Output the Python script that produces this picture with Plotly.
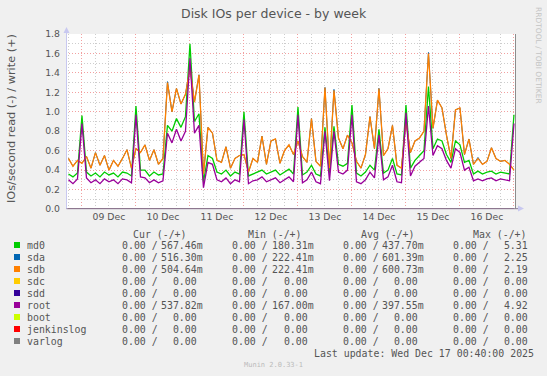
import plotly.graph_objects as go
import pandas as pd

# ---------------- data ----------------
# sample times: hours relative to 2025-12-09 00:00 (2-hour steps)
hours = list(range(-6, 194, 2))

md0 = [0.36, 0.33, 0.37, 0.96, 0.38, 0.34, 0.37, 0.33, 0.38, 0.35, 0.37, 0.33, 0.38, 0.37, 0.34, 1.06, 0.40,
       0.40, 0.34, 0.38, 0.35, 0.36, 0.86, 0.80, 0.93, 0.84, 0.95, 1.70, 0.90, 0.98, 0.28, 0.55, 0.52, 0.38,
       0.36, 0.40, 0.34, 0.38, 0.36, 1.00, 0.34, 0.36, 0.38, 0.40, 0.36, 0.38, 0.40, 0.35, 0.38, 0.41,
       0.36, 1.05, 0.35, 0.38, 0.45, 0.36, 0.34, 0.84, 0.37, 0.85, 0.46, 0.44, 0.47, 1.07, 0.37, 0.34, 0.38,
       0.45, 0.40, 0.82, 0.37, 0.40, 0.52, 0.36, 0.35, 1.07, 0.42, 0.50, 0.55, 0.60, 1.26, 0.62, 0.72, 0.70,
       0.56, 0.48, 0.70, 0.66, 0.48, 0.50, 0.36, 0.39, 0.36, 0.38, 0.39, 0.36, 0.38, 0.37, 0.36, 0.97]

sdb = [0.52, 0.44, 0.50, 0.47, 0.54, 0.42, 0.58, 0.45, 0.55, 0.40, 0.50, 0.44, 0.52, 0.61, 0.42, 0.62, 0.58,
       0.66, 0.50, 0.61, 0.46, 0.52, 1.30, 1.00, 1.24, 1.08, 1.18, 1.45, 1.10, 1.38, 0.36, 0.84, 0.78, 0.50,
       0.48, 0.64, 0.42, 0.52, 0.55, 0.56, 0.38, 0.52, 0.48, 0.75, 0.46, 0.70, 0.72, 0.47, 0.60, 0.66,
       0.56, 0.70, 0.54, 0.48, 0.93, 0.49, 0.44, 1.25, 0.42, 1.22, 0.73, 0.62, 0.76, 0.68, 0.49, 0.42, 0.56,
       0.95, 0.62, 1.24, 0.55, 0.62, 0.86, 0.45, 0.42, 0.90, 0.58, 0.70, 0.73, 0.80, 1.60, 0.83, 1.12, 1.04,
       0.76, 0.52, 1.02, 1.04, 0.56, 0.72, 0.46, 0.52, 0.46, 0.49, 0.63, 0.52, 0.49, 0.50, 0.46, 0.40]

sda = [0.52, 0.44, 0.50, 0.47, 0.54, 0.42, 0.58, 0.45, 0.55, 0.40, 0.50, 0.44, 0.52, 0.61, 0.42, 0.62, 0.58,
       0.66, 0.50, 0.61, 0.46, 0.52, 1.31, 1.00, 1.24, 1.08, 1.18, 1.45, 1.10, 1.38, 0.36, 0.84, 0.78, 0.50,
       0.48, 0.64, 0.42, 0.52, 0.55, 0.56, 0.38, 0.52, 0.48, 0.75, 0.46, 0.70, 0.72, 0.47, 0.60, 0.66,
       0.56, 0.70, 0.54, 0.48, 0.93, 0.49, 0.44, 1.25, 0.42, 1.23, 0.73, 0.62, 0.76, 0.68, 0.49, 0.42, 0.56,
       0.95, 0.62, 1.24, 0.55, 0.62, 0.86, 0.45, 0.42, 0.90, 0.58, 0.70, 0.73, 0.80, 1.61, 0.83, 1.12, 1.04,
       0.76, 0.52, 1.02, 1.04, 0.56, 0.72, 0.46, 0.53, 0.46, 0.49, 0.63, 0.52, 0.49, 0.50, 0.46, 0.40]

root = [0.30, 0.26, 0.31, 0.88, 0.32, 0.27, 0.30, 0.26, 0.31, 0.28, 0.30, 0.26, 0.31, 0.30, 0.27, 0.97, 0.33,
        0.32, 0.27, 0.30, 0.27, 0.29, 0.78, 0.68, 0.82, 0.70, 0.80, 1.55, 0.78, 0.86, 0.22, 0.48, 0.46, 0.30,
        0.28, 0.32, 0.26, 0.30, 0.28, 0.92, 0.26, 0.29, 0.30, 0.33, 0.28, 0.30, 0.32, 0.27, 0.30, 0.33,
        0.28, 0.97, 0.27, 0.30, 0.38, 0.28, 0.26, 0.80, 0.29, 0.80, 0.38, 0.36, 0.40, 0.97, 0.28, 0.26, 0.30,
        0.38, 0.32, 0.76, 0.30, 0.33, 0.45, 0.28, 0.27, 0.99, 0.34, 0.44, 0.48, 0.52, 1.06, 0.55, 0.65, 0.62,
        0.50, 0.42, 0.62, 0.58, 0.40, 0.43, 0.29, 0.31, 0.29, 0.31, 0.32, 0.29, 0.31, 0.30, 0.29, 0.88]

# idle devices: write rate 0 all week
sdc = [0.0] * len(hours)
sdd = [0.0] * len(hours)
boot = [0.0] * len(hours)
jenkinslog = [0.0] * len(hours)
varlog = [0.0] * len(hours)

names = ["md0", "sda", "sdb", "sdc", "sdd", "root", "boot", "jenkinslog", "varlog"]
colors = ["#00CC00", "#0066B3", "#FF8000", "#FFCC00", "#330099", "#990099", "#CCFF00", "#FF0000", "#808080"]
read_vals = ["0.00"] * 9
cur_write = ["567.46m", "516.30m", "504.64m", "0.00", "0.00", "537.82m", "0.00", "0.00", "0.00"]
min_write = ["180.31m", "222.41m", "222.41m", "0.00", "0.00", "167.00m", "0.00", "0.00", "0.00"]
avg_write = ["437.70m", "601.39m", "600.73m", "0.00", "0.00", "397.55m", "0.00", "0.00", "0.00"]
max_write = ["5.31", "2.25", "2.19", "0.00", "0.00", "4.92", "0.00", "0.00", "0.00"]
col_headers = ["Cur (-/+)", "Min (-/+)", "Avg (-/+)", "Max (-/+)"]

title = "Disk IOs per device - by week"
ytitle = "IOs/second read (-) / write (+)"
last_update = "Last update: Wed Dec 17 00:40:00 2025"
version = "Munin 2.0.33-1"
side_text = "RRDTOOL / TOBI OETIKER"

# ---------------- figure ----------------
base = pd.Timestamp("2025-12-09 00:00")
times = [base + pd.Timedelta(hours=h) for h in hours]

series = {"md0": md0, "sda": sda, "sdb": sdb, "sdc": sdc, "sdd": sdd, "root": root,
          "boot": boot, "jenkinslog": jenkinslog, "varlog": varlog}

fig = go.Figure()
for name, col in zip(names, colors):
    fig.add_trace(go.Scatter(
        x=times, y=series[name], mode="lines", name=name,
        line=dict(color=col, width=1.0 if name == "sda" else 1.3),
        showlegend=False, hoverinfo="skip"))

W, H = 547, 376
L, R, T, B = 66, 516, 34, 209
PW, PH = R - L, B - T


def px(x):
    return (x - L) / PW


def py(y):
    return (B - y) / PH


RED = "#F2A0A0"
GRAY = "#CDCDCD"
TXT = "#555555"
DOT = "1px,2px"

fig.update_layout(
    width=W, height=H,
    margin=dict(l=L, r=W - R, t=T, b=H - B, pad=0),
    paper_bgcolor="#F0F0F0", plot_bgcolor="#FFFFFF",
    font=dict(family="DejaVu Sans", color=TXT, size=9.3),
    showlegend=False,
)

fig.update_xaxes(
    type="date",
    range=[base - pd.Timedelta(hours=7.1), base + pd.Timedelta(hours=192.9)],
    tick0="2025-12-09", dtick=86400000, ticklabelmode="period", tickformat="%d %b",
    showgrid=True, gridcolor=RED, griddash=DOT, gridwidth=1,
    ticks="", ticklabelstandoff=1,
    tickfont=dict(family="DejaVu Sans", size=9.3, color=TXT),
    minor=dict(dtick=21600000, showgrid=True, gridcolor=GRAY, griddash=DOT, gridwidth=1),
    showline=False, zeroline=False,
)
fig.update_yaxes(
    range=[0, 1.8], dtick=0.2, tickformat=".1f",
    showgrid=True, gridcolor=RED, griddash=DOT, gridwidth=1,
    ticks="", ticklabelstandoff=5,
    tickfont=dict(family="DejaVu Sans", size=9.3, color=TXT),
    minor=dict(dtick=0.1, showgrid=True, gridcolor=GRAY, griddash=DOT, gridwidth=1),
    showline=False, zeroline=False,
)

shapes = []
AX = "#C8C8F0"
# y axis line + arrow
shapes.append(dict(type="line", xref="paper", yref="paper", x0=px(66.5), x1=px(66.5),
                   y0=py(209), y1=py(31), line=dict(color=AX, width=1)))
shapes.append(dict(type="path", xref="paper", yref="paper",
                   path=f"M {px(63.5)} {py(33)} L {px(69.5)} {py(33)} L {px(66.5)} {py(27)} Z",
                   fillcolor=AX, line=dict(color=AX, width=0)))
# x axis line + arrow
shapes.append(dict(type="line", xref="paper", yref="paper", x0=px(66.5), x1=px(519),
                   y0=py(208.7), y1=py(208.7), line=dict(color="#8A7A9A", width=1)))
shapes.append(dict(type="path", xref="paper", yref="paper",
                   path=f"M {px(518)} {py(205.5)} L {px(518)} {py(211.5)} L {px(524)} {py(208.5)} Z",
                   fillcolor=AX, line=dict(color=AX, width=0)))
# right frame line
shapes.append(dict(type="line", xref="paper", yref="paper", x0=px(515.5), x1=px(515.5),
                   y0=py(209), y1=py(34), line=dict(color="#8C8C8C", width=1)))

# legend colour boxes
for i, col in enumerate(colors):
    yc = 245.0 + 12.0 * i
    shapes.append(dict(type="rect", xref="paper", yref="paper",
                       x0=px(14), x1=px(20), y0=py(yc + 3), y1=py(yc - 3),
                       fillcolor=col, line=dict(color=col, width=0)))
fig.update_layout(shapes=shapes)

anns = []


def ann(text, x, y, size, color=TXT, family="DejaVu Sans Mono", xanchor="left", angle=0):
    anns.append(dict(text=text.replace(" ", "\u00a0"), x=px(x), y=py(y), xref="paper", yref="paper",
                     showarrow=False, xanchor=xanchor, yanchor="middle", textangle=angle,
                     borderpad=0, borderwidth=0,
                     font=dict(family=family, size=size, color=color)))


ann(title, 273.5, 14, 12.5, color="#555555", family="DejaVu Sans", xanchor="center")
ann(ytitle, 11, 119, 11.3, color="#555555", family="DejaVu Sans", xanchor="center", angle=-90)
ann(side_text, 539, 55, 7.5, color="#C4C4C4", family="DejaVu Sans", xanchor="center", angle=90)
ann(version, 273.5, 365, 7.0, color="#BBBBBB", family="DejaVu Sans Mono", xanchor="center")


def pad(s):
    if s[-1].isalpha():
        return s[:-1].rjust(6) + s[-1]
    return s.rjust(6)


LS = 9.9
neg_x = [122, 232, 343, 453]
pos_x = [160.8, 271.5, 381.7, 491.7]
hdr_x = [133.3, 247.7, 360.7, 473.3]
for hx, h in zip(hdr_x, col_headers):
    ann(h, hx, 234, LS)
cols = [cur_write, min_write, avg_write, max_write]
for i, name in enumerate(names):
    yc = 245.2 + 12.0 * i
    ann(name, 27, yc, LS)
    for c in range(4):
        ann(read_vals[i] + " /", neg_x[c], yc, LS)
        ann(pad(cols[c][i]), pos_x[c], yc, LS)
ann(last_update, 533.5, 353.3, LS, xanchor="right")

fig.update_layout(annotations=anns)
fig.write_html(
    "out.html",
    config={"displayModeBar": False, "staticPlot": True},
    post_script="document.body.style.margin='0';document.body.style.background='#F0F0F0';"
                "document.body.style.overflow='hidden';",
)
